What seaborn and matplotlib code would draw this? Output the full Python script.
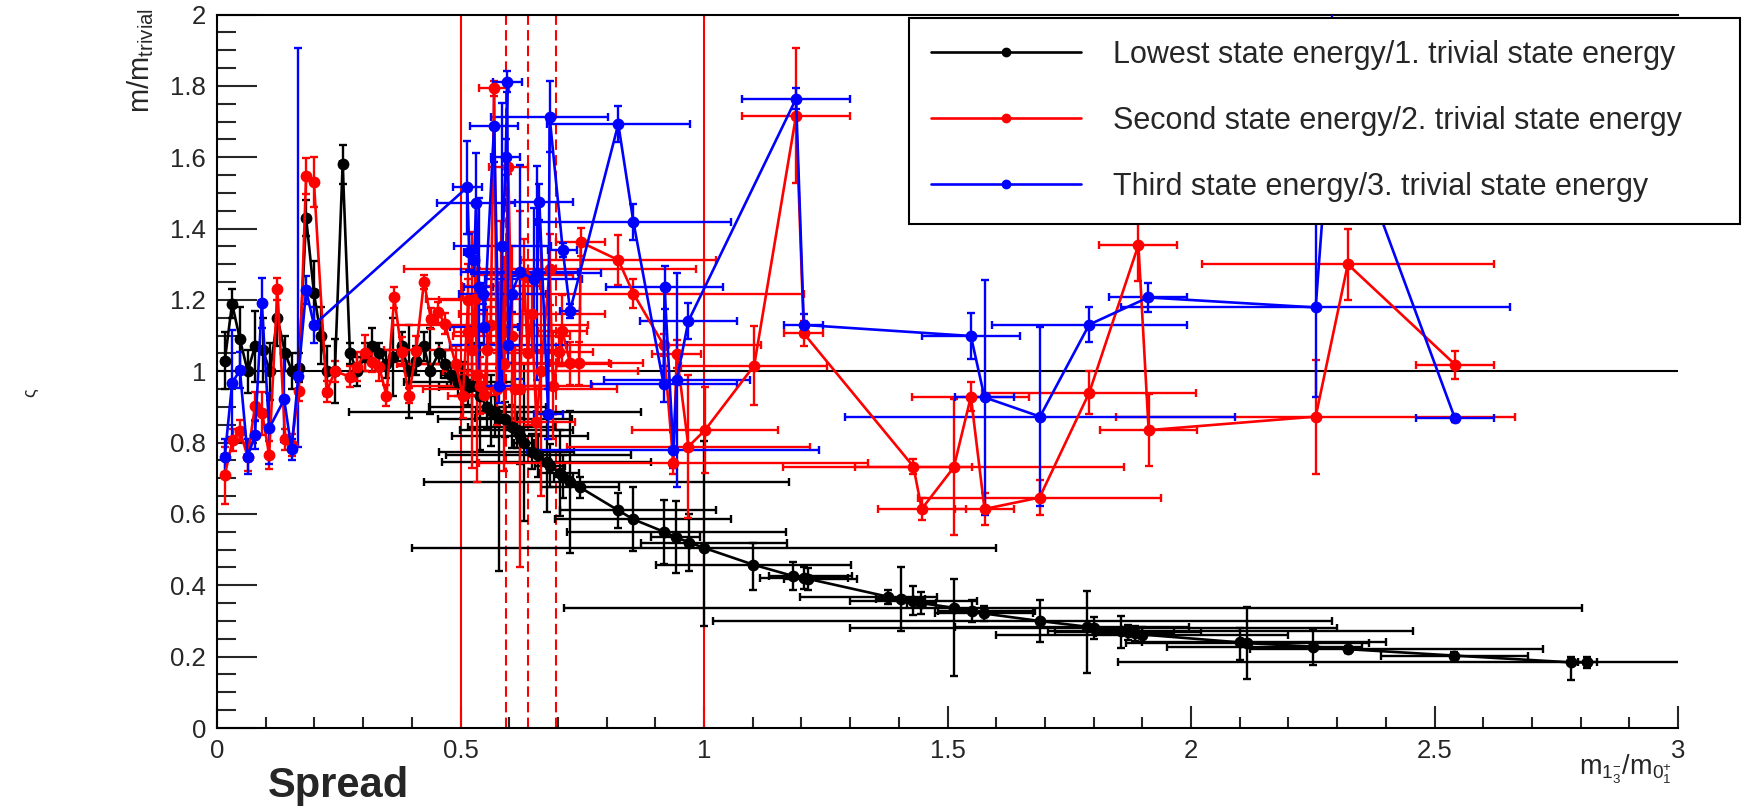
import numpy as np
import pandas as pd
import seaborn as sns
import matplotlib.pyplot as plt
from matplotlib.ticker import MultipleLocator, FormatStrFormatter
from matplotlib.lines import Line2D

# Lowest state energy / 1. trivial state energy
black_x = [0.016, 0.031, 0.047, 0.063, 0.078, 0.094, 0.109, 0.124, 0.140, 0.154,
           0.168, 0.183, 0.199, 0.213, 0.226, 0.242, 0.258, 0.273, 0.288, 0.303,
           0.318, 0.333, 0.348, 0.362, 0.379, 0.394, 0.409, 0.425, 0.437, 0.455,
           0.468, 0.480, 0.495, 0.506, 0.515, 0.523, 0.540, 0.555, 0.562, 0.571,
           0.580, 0.591, 0.605, 0.615, 0.622, 0.630, 0.646, 0.660, 0.677, 0.684,
           0.704, 0.711, 0.725, 0.745, 0.824, 0.855, 0.918, 0.942, 0.970, 1.000,
           1.101, 1.183, 1.206, 1.214, 1.378, 1.404, 1.430, 1.446, 1.513, 1.550,
           1.575, 1.689, 1.786, 1.800, 1.856, 1.870, 1.885, 1.900, 2.100, 2.116,
           2.251, 2.322, 2.541, 2.780, 2.814]
black_y = [1.03, 1.19, 1.09, 1.00, 1.07, 1.06, 1.00, 1.15, 1.05, 1.00,
           1.01, 1.43, 1.22, 1.10, 1.00, 1.00, 1.58, 1.05, 1.00, 1.04,
           1.07, 1.05, 1.02, 1.04, 1.07, 1.00, 1.03, 1.07, 1.00, 1.05,
           1.02, 0.99, 0.97, 0.975, 0.955, 0.96, 0.93, 0.90, 0.89, 0.885,
           0.87, 0.865, 0.845, 0.835, 0.82, 0.80, 0.775, 0.765, 0.745, 0.735,
           0.715, 0.705, 0.69, 0.675, 0.61, 0.585, 0.55, 0.535, 0.52, 0.505,
           0.458, 0.426, 0.42, 0.418, 0.368, 0.362, 0.357, 0.35, 0.337, 0.328,
           0.321, 0.30, 0.284, 0.28, 0.273, 0.268, 0.265, 0.262, 0.24, 0.238,
           0.228, 0.221, 0.203, 0.184, 0.184]
black_xlo = [0.005] * 31 + [
    0.02, 0.11, 0.02, 0.06, 0.05, 0.03, 0.12, 0.03, 0.30, 0.05,
    0.137, 0.09, 0.116, 0.14, 0.02, 0.19, 0.19, 0.215, 0.03, 0.04,
    0.02, 0.30, 0.08, 0.12, 0.16, 0.20, 0.05, 0.10, 0.60, 0.20,
    0.05, 0.09, 0.05, 0.18, 0.05, 0.13, 0.03, 0.80, 0.07, 0.10,
    0.67, 0.27, 0.50, 0.15, 0.15, 0.08, 0.30, 0.20, 0.25, 0.30,
    0.20, 0.15, 0.93, 0.02]
black_xhi = [0.005] * 31 + [
    0.02, 0.11, 0.02, 0.06, 0.05, 0.03, 0.12, 0.03, 0.30, 0.05,
    0.137, 0.09, 0.116, 0.14, 0.02, 0.088, 0.19, 0.215, 0.03, 0.04,
    0.02, 0.45, 0.08, 0.20, 0.20, 0.25, 0.05, 0.20, 0.60, 0.20,
    0.12, 0.09, 0.10, 0.10, 0.05, 0.13, 0.03, 1.29, 0.13, 0.10,
    0.60, 0.21, 0.50, 0.60, 0.15, 0.08, 0.30, 0.30, 0.25, 0.10,
    0.40, 0.15, 0.93, 0.02]
black_ylo = [0.08, 0.04, 0.09, 0.06, 0.10, 0.09, 0.08, 0.08, 0.05, 0.05,
             0.04, 0.05, 0.09, 0.08, 0.07, 0.09, 0.055, 0.03, 0.04, 0.04,
             0.05, 0.03, 0.04, 0.11, 0.04, 0.13, 0.04, 0.04, 0.12, 0.03,
             0.04, 0.03, 0.04, 0.05, 0.05, 0.12, 0.15, 0.06, 0.10, 0.07,
             0.43, 0.05, 0.06, 0.05, 0.08, 0.22, 0.05, 0.06, 0.14, 0.06,
             0.12, 0.06, 0.20, 0.03, 0.05, 0.09, 0.09, 0.10, 0.08, 0.22,
             0.07, 0.04, 0.03, 0.03, 0.02, 0.09, 0.04, 0.03, 0.19, 0.03,
             0.02, 0.06, 0.13, 0.03, 0.05, 0.02, 0.02, 0.02, 0.05, 0.10,
             0.05, 0.01, 0.01, 0.05, 0.015]
black_yhi = [0.08, 0.04, 0.09, 0.06, 0.10, 0.09, 0.08, 0.08, 0.05, 0.05,
             0.04, 0.05, 0.09, 0.08, 0.07, 0.09, 0.055, 0.03, 0.04, 0.04,
             0.05, 0.03, 0.04, 0.11, 0.04, 0.13, 0.04, 0.04, 0.12, 0.03,
             0.04, 0.03, 0.04, 0.05, 0.05, 0.12, 0.15, 0.06, 0.10, 0.07,
             0.03, 0.05, 0.06, 0.05, 0.08, 0.22, 0.05, 0.06, 0.14, 0.06,
             0.12, 0.06, 0.20, 0.03, 0.05, 0.09, 0.09, 0.10, 0.08, 0.30,
             0.06, 0.04, 0.03, 0.03, 0.02, 0.09, 0.04, 0.03, 0.08, 0.03,
             0.02, 0.06, 0.10, 0.03, 0.04, 0.02, 0.02, 0.02, 0.04, 0.10,
             0.05, 0.01, 0.01, 0.015, 0.015]

# Second state energy / 2. trivial state energy
red_x = [0.016, 0.032, 0.047, 0.063, 0.078, 0.093, 0.107, 0.124, 0.140, 0.153,
         0.168, 0.183, 0.199, 0.225, 0.242, 0.273, 0.288, 0.304, 0.318, 0.333,
         0.348, 0.364, 0.379, 0.394, 0.409, 0.425, 0.439, 0.454, 0.468, 0.490,
         0.505, 0.516, 0.516, 0.523, 0.530, 0.534, 0.540, 0.548, 0.555, 0.562,
         0.569, 0.575, 0.583, 0.590, 0.598, 0.605, 0.612, 0.622, 0.630, 0.638,
         0.646, 0.656, 0.665, 0.683, 0.690, 0.703, 0.709, 0.725, 0.744, 0.747,
         0.824, 0.855, 0.917, 0.937, 0.944, 0.968, 1.002, 1.103, 1.189, 1.205,
         1.430, 1.447, 1.513, 1.548, 1.576, 1.689, 1.791, 1.892, 1.913, 2.256,
         2.322, 2.543]
red_y = [0.709, 0.807, 0.834, 0.76, 0.903, 0.882, 0.765, 1.231, 0.809, 0.793,
         0.946, 1.548, 1.532, 0.943, 1.0, 0.985, 1.013, 1.052, 1.027, 1.013,
         0.932, 1.207, 1.055, 0.932, 1.058, 1.251, 1.148, 1.165, 1.134, 1.02,
         0.93, 1.20, 1.11, 1.06, 1.203, 0.99, 0.96, 0.934, 1.06, 1.13,
         1.793, 0.95, 1.24, 1.02, 1.574, 1.10, 0.95, 0.95, 1.27, 1.05,
         1.16, 0.859, 1.00, 1.286, 0.96, 1.055, 1.114, 1.022, 1.022, 1.362,
         1.312, 1.218, 1.074, 0.742, 1.049, 0.789, 0.835, 1.016, 1.717, 1.106,
         0.733, 0.614, 0.731, 0.929, 0.614, 0.646, 0.940, 1.354, 0.835, 0.873,
         1.30, 1.018]
red_xerr = [0.005] * 29 + [
    0.10, 0.03, 0.06, 0.03, 0.18, 0.10, 0.02, 0.15, 0.03, 0.10,
    0.20, 0.03, 0.04, 0.08, 0.22, 0.04, 0.12, 0.05, 0.20, 0.10,
    0.06, 0.15, 0.08, 0.20, 0.30, 0.08, 0.07, 0.05, 0.15, 0.06,
    0.05, 0.20, 0.35, 0.20, 0.40, 0.05, 0.25, 0.15, 0.15, 0.11,
    0.04, 0.12, 0.09, 0.35, 0.12, 0.06, 0.25, 0.22, 0.08, 0.10,
    0.41, 0.30, 0.08]
red_yerr = [0.08, 0.03, 0.03, 0.04, 0.04, 0.06, 0.04, 0.03, 0.03, 0.03,
            0.03, 0.05, 0.07, 0.03, 0.03, 0.03, 0.04, 0.05, 0.03, 0.04,
            0.03, 0.03, 0.04, 0.02, 0.04, 0.02, 0.03, 0.03, 0.03, 0.05,
            0.06, 0.10, 0.15, 0.33, 0.10, 0.30, 0.08, 0.05, 0.12, 0.05,
            0.02, 0.10, 0.18, 0.30, 0.02, 0.25, 0.12, 0.50, 0.10, 0.20,
            0.10, 0.10, 0.35, 0.10, 0.15, 0.04, 0.10, 0.06, 0.06, 0.04,
            0.07, 0.04, 0.03, 0.03, 0.04, 0.20, 0.12, 0.11, 0.19, 0.035,
            0.02, 0.03, 0.19, 0.04, 0.045, 0.05, 0.06, 0.10, 0.10, 0.16,
            0.10, 0.04]

# Third state energy / 3. trivial state energy
blue_x = [0.016, 0.031, 0.047, 0.063, 0.078, 0.092, 0.107, 0.138, 0.153, 0.167,
          0.183, 0.199, 0.514, 0.518, 0.528, 0.532, 0.537, 0.547, 0.548, 0.569,
          0.580, 0.586, 0.593, 0.596, 0.598, 0.605, 0.622, 0.650, 0.658, 0.662,
          0.680, 0.683, 0.710, 0.725, 0.824, 0.855, 0.917, 0.919, 0.937, 0.944,
          0.968, 1.189, 1.205, 1.548, 1.576, 1.690, 1.791, 1.912, 2.256, 2.290,
          2.542]
blue_y = [0.761, 0.966, 1.004, 0.761, 0.821, 1.192, 0.84, 0.921, 0.781, 0.987,
          1.228, 1.13, 1.516, 1.335, 1.312, 1.473, 1.237, 1.218, 1.123, 1.688,
          0.96, 1.352, 1.60, 1.812, 1.074, 1.217, 1.279, 1.258, 1.276, 1.475,
          0.88, 1.714, 1.34, 1.17, 1.693, 1.419, 0.964, 1.235, 0.779, 0.976,
          1.141, 1.764, 1.13, 1.099, 0.927, 0.873, 1.131, 1.207, 1.179, 1.80,
          0.868]
blue_xerr = [0.005] * 12 + [
    0.03, 0.01, 0.01, 0.08, 0.03, 0.05, 0.07, 0.05,
    0.05, 0.10, 0.03, 0.03, 0.12, 0.07, 0.12, 0.10, 0.13, 0.07,
    0.03, 0.12, 0.03, 0.02, 0.147, 0.20, 0.15, 0.12, 0.30, 0.15,
    0.10, 0.11, 0.04, 0.10, 0.06, 0.40, 0.20, 0.08, 0.40, 0.10,
    0.08]
blue_ylo = [0.05, 0.15, 0.05, 0.05, 0.04, 0.07, 0.10, 0.12, 0.03, 0.20,
            0.04, 0.05, 0.13, 0.05, 0.04, 0.14, 0.25, 0.03, 0.05, 0.10,
            0.05, 0.40, 0.05, 0.03, 0.05, 0.05, 0.30, 0.20, 0.30, 0.05,
            0.07, 0.10, 0.02, 0.02, 0.05, 0.05, 0.05, 0.06, 0.05, 0.30,
            0.05, 0.03, 0.03, 0.065, 0.33, 0.25, 0.05, 0.04, 0.25, 0.35,
            0.01]
blue_yhi = [0.05, 0.15, 0.05, 0.05, 0.04, 0.07, 0.10, 0.12, 0.03, 0.92,
            0.04, 0.05, 0.13, 0.05, 0.04, 0.14, 0.25, 0.03, 0.05, 0.10,
            0.05, 0.40, 0.05, 0.03, 0.05, 0.05, 0.30, 0.20, 0.30, 0.05,
            0.07, 0.10, 0.02, 0.02, 0.05, 0.05, 0.05, 0.06, 0.05, 0.30,
            0.05, 0.03, 0.03, 0.065, 0.33, 0.25, 0.05, 0.04, 0.25, 0.35,
            0.01]

legend_labels = ['Lowest state energy/1. trivial state energy',
                 'Second state energy/2. trivial state energy',
                 'Third state energy/3. trivial state energy']
solid_lines = [0.5, 1.0]
dashed_lines = [0.593, 0.638, 0.697]

sns.set_theme(style='ticks')
plt.rcParams['font.family'] = ['Liberation Sans', 'DejaVu Sans']
plt.rcParams['mathtext.fontset'] = 'custom'
plt.rcParams['mathtext.rm'] = 'Liberation Sans'
plt.rcParams['mathtext.it'] = 'Liberation Sans'

W, H = 1754, 807
fig = plt.figure(figsize=(W / 100, H / 100), dpi=100)
ax = fig.add_axes([217 / W, 1 - 728 / H, (1678 - 217) / W, (728 - 14.6) / H])


def draw_graph(x, y, xerr, yerr, color):
    ax.errorbar(x, y, xerr=xerr, yerr=yerr, fmt='none', ecolor=color,
                elinewidth=1.7, capsize=2.8, capthick=1.7, zorder=3)
    df = pd.DataFrame({'x': x, 'y': y})
    sns.lineplot(data=df, x='x', y='y', sort=False, estimator=None, color=color,
                 lw=1.9, marker='o', markersize=8.5, markeredgewidth=0, ax=ax, zorder=4)


# reference lines
for v in solid_lines:
    ax.axvline(v, color='red', lw=1.5, zorder=1)
for v in dashed_lines:
    ax.axvline(v, color='red', lw=1.5, ls=(0, (5, 2.5)), zorder=1)
ax.axhline(1.0, color='black', lw=1.5, zorder=1)

draw_graph(black_x, black_y, [black_xlo, black_xhi], [black_ylo, black_yhi], 'black')
draw_graph(red_x, red_y, red_xerr, red_yerr, 'red')
draw_graph(blue_x, blue_y, blue_xerr, [blue_ylo, blue_yhi], 'blue')

ax.set_xlim(0, 3)
ax.set_ylim(0, 2)
ax.set_xlabel('')
ax.set_ylabel('')
ax.xaxis.set_major_locator(MultipleLocator(0.5))
ax.xaxis.set_minor_locator(MultipleLocator(0.1))
ax.yaxis.set_major_locator(MultipleLocator(0.2))
ax.yaxis.set_minor_locator(MultipleLocator(0.05))
ax.xaxis.set_major_formatter(FormatStrFormatter('%g'))
ax.yaxis.set_major_formatter(FormatStrFormatter('%g'))
ax.tick_params(axis='x', which='major', direction='in', length=16, width=1.5, pad=8, labelsize=18.5)
ax.tick_params(axis='x', which='minor', direction='in', length=8, width=1.5)
ax.tick_params(axis='y', which='major', direction='in', length=29, width=1.5, pad=8, labelsize=18.5)
ax.tick_params(axis='y', which='minor', direction='in', length=14, width=1.5)
for s in ['left', 'bottom', 'top']:
    ax.spines[s].set_linewidth(1.5)
    ax.spines[s].set_color('black')
ax.spines['right'].set_visible(False)

handles = [Line2D([], [], color=c, lw=1.9, marker='o', markersize=6)
           for c in ['black', 'red', 'blue']]
leg = fig.legend(handles, legend_labels, loc='upper left',
                 bbox_to_anchor=(909 / W, 1 - 229 / H, (1740 - 909) / W, (229 - 18) / H),
                 mode='expand', borderaxespad=0, fontsize=22, handlelength=4.9,
                 handletextpad=1.05, labelspacing=1.18, borderpad=0.72, fancybox=False,
                 framealpha=1, edgecolor='black')
leg.get_frame().set_linewidth(1.5)
leg.set_zorder(10)

fig.text(141 / W, 1 - 8 / H, r'$\mathregular{m/m_{trivial}}$', rotation=90,
         ha='center', va='top', fontsize=21)
fig.text(1672 / W, 1 - 752 / H, r'$\mathregular{m_{1^{-}_{3}}/m_{0^{+}_{1}}}$',
         ha='right', va='top', fontsize=19.5)
fig.text(268 / W, 1 - 797 / H, 'Spread', fontweight='bold', fontsize=30,
         ha='left', va='baseline')
fig.text(31 / W, 1 - 393 / H, 'ς', rotation=90, ha='center', va='center', fontsize=13)

fig.savefig('out.png', dpi=100)
